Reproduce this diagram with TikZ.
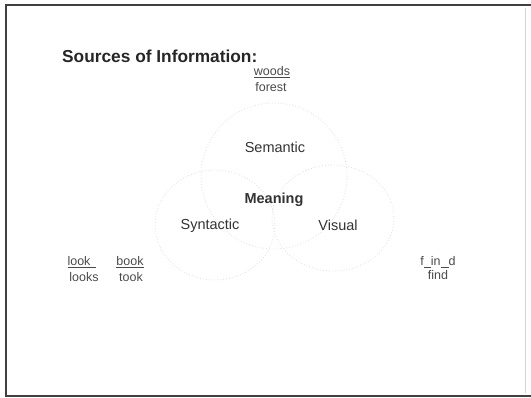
\documentclass[tikz,border=0pt]{standalone}
\usepackage{fontspec}
\setmainfont{Liberation Sans}
\definecolor{ink}{HTML}{333333}
\definecolor{soft}{HTML}{4A4A4A}
\tikzset{
  lbl/.style={inner sep=0pt, text=ink, font=\fontsize{14.5}{16}\selectfont},
  word/.style={inner sep=0pt, text=soft, font=\fontsize{12.5}{14}\selectfont},
  ring/.style={draw=gray!22, dotted, line width=0.9pt},
  frame/.style={draw=black!75, line width=1.4pt}
}
\begin{document}
\begin{tikzpicture}[x=1pt,y=-1pt]
\useasboundingbox (0,0) rectangle (531,398);
% frame
\draw[frame] (531,5) -- (6,5) -- (6,396) -- (531,396);
\draw[draw=gray!35, line width=0.8pt] (525,8) -- (525,393);
% circles
\draw[ring] (274,176) circle (73);
\draw[ring] (333,218) ellipse (61 and 53);
\draw[ring] (215,225) ellipse (60 and 55);
% title
\node[anchor=west, inner sep=0pt, text=black!85, font=\fontsize{17.3}{19}\selectfont\bfseries] (title) at (62,56) {Sources of Information:};
% labels
\node[lbl] (sem) at (275,147) {Semantic};
\node[lbl, font=\fontsize{14.5}{16}\selectfont\bfseries] (mean) at (274,200) {Meaning};
\node[lbl] (syn) at (210,226) {Syntactic};
\node[lbl] (vis) at (338,225) {Visual};
% words
\node[word] (woods) at (272,72) {\underline{woods}};
\node[word] (forest) at (271,87) {forest};
\node[word] (look) at (82,262) {\underline{look\hspace{6pt}}};
\node[word] (looks) at (84,277) {looks};
\node[word] (book) at (130,262) {\underline{book}};
\node[word] (took) at (131,277) {took};
\node[word] (fid) at (438,262) {f\underline{\hspace{7pt}}in\underline{\hspace{8pt}}d};
\node[word] (find) at (438,275) {find};
\end{tikzpicture}
\end{document}
